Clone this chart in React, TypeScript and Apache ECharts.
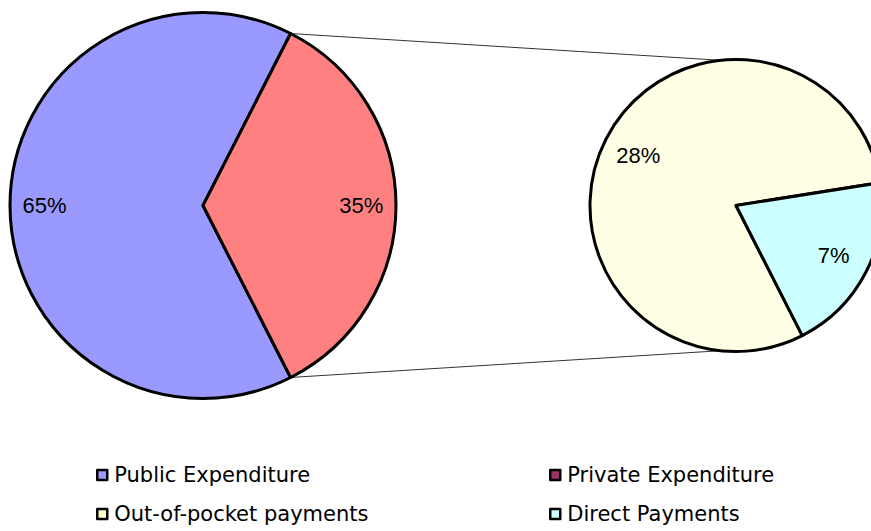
import React, { useEffect, useRef } from "react";
import * as echarts from "echarts";

const mainCategories = ["Public Expenditure", "Private Expenditure"];
const mainValues = [65, 35];
const mainColors = ["#9999FF", "#FF8080"];

const subCategories = ["Out-of-pocket payments", "Direct Payments"];
const subValues = [28, 7];
const subColors = ["#FFFFE5", "#CCFFFF"];

const legendColors: Record<string, string> = {
  "Public Expenditure": "#9999FF",
  "Private Expenditure": "#993366",
  "Out-of-pocket payments": "#FFFFCC",
  "Direct Payments": "#CCFFFF",
};
// legend grid: rows x columns
const legendGrid = [
  ["Public Expenditure", "Private Expenditure"],
  ["Out-of-pocket payments", "Direct Payments"],
];

const W = 871;
const H = 531;
const MAIN_C = [203, 205.5];
const MAIN_R = 193;
const SUB_C = [736, 205.5];
const SUB_R = 146;
const START = -63;
const LEG_X = [96, 549];
const LEG_Y = [463, 502];

export default function App() {
  const ref = useRef<HTMLDivElement>(null);
  useEffect(() => {
    if (!ref.current) return;
    const chart = echarts.init(ref.current, undefined, { renderer: "svg" });
    const mainData = mainCategories.map((n, i) => ({
      name: n,
      value: mainValues[i],
      itemStyle: { color: mainColors[i] },
    }));
    const subData = subCategories.map((n, i) => ({
      name: n,
      value: subValues[i],
      itemStyle: { color: subColors[i] },
    }));
    const labelStyle = {
      show: true,
      position: "inside",
      formatter: "{c}%",
      color: "#000",
      fontSize: 22,
      fontFamily: "Liberation Sans, Arial, sans-serif",
    };
    const basePie = {
      type: "pie",
      startAngle: START,
      clockwise: true,
      avoidLabelOverlap: false,
      silent: true,
      emphasis: { disabled: true },
      labelLine: { show: false },
    };
    const mainSplit = (mainValues[1] / (mainValues[0] + mainValues[1])) * 180;
    const a1 = (mainSplit * Math.PI) / 180;
    const a2 = (96 * Math.PI) / 180;
    const pTop = [MAIN_C[0] + MAIN_R * Math.cos(a1), MAIN_C[1] - MAIN_R * Math.sin(a1)];
    const pBot = [MAIN_C[0] + MAIN_R * Math.cos(a1), MAIN_C[1] + MAIN_R * Math.sin(a1)];
    const sTop = [SUB_C[0] + SUB_R * Math.cos(a2), SUB_C[1] - SUB_R * Math.sin(a2)];
    const sBot = [SUB_C[0] + SUB_R * Math.cos(a2), SUB_C[1] + SUB_R * Math.sin(a2)];

    const legends: any[] = [];
    legendGrid.forEach((row, ri) =>
      row.forEach((n, ci) => {
        legends.push({
          orient: "horizontal",
          left: LEG_X[ci],
          top: LEG_Y[ri],
          padding: 0,
          itemWidth: 10,
          itemHeight: 10,
          icon: "rect",
          selectedMode: false,
          textStyle: {
            fontSize: 21,
            lineHeight: 24,
            color: "#000",
            fontFamily: "DejaVu Sans, sans-serif",
            padding: [0, 0, 0, 2],
          },
          data: [
            {
              name: n,
              itemStyle: { color: legendColors[n], borderColor: "#000", borderWidth: 2.5 },
            },
          ],
        });
      })
    );

    chart.setOption({
      animation: false,
      backgroundColor: "#fff",
      legend: legends,
      graphic: [
        {
          type: "line",
          z: 0,
          shape: { x1: pTop[0], y1: pTop[1], x2: sTop[0], y2: sTop[1] },
          style: { stroke: "#333", lineWidth: 1 },
        },
        {
          type: "line",
          z: 0,
          shape: { x1: pBot[0], y1: pBot[1], x2: sBot[0], y2: sBot[1] },
          style: { stroke: "#333", lineWidth: 1 },
        },
      ],
      series: [
        {
          ...basePie,
          center: MAIN_C,
          radius: [0, MAIN_R],
          data: mainData,
          itemStyle: { borderColor: "#000", borderWidth: 3 },
          label: { show: false },
        },
        {
          ...basePie,
          center: MAIN_C,
          radius: [MAIN_R * 0.61, MAIN_R],
          data: mainData.map((d) => ({ ...d, itemStyle: { color: "rgba(0,0,0,0)" } })),
          itemStyle: { borderWidth: 0 },
          label: labelStyle,
        },
        {
          ...basePie,
          center: SUB_C,
          radius: [0, SUB_R],
          data: subData,
          itemStyle: { borderColor: "#000", borderWidth: 3 },
          label: { show: false },
        },
        {
          ...basePie,
          center: SUB_C,
          radius: [SUB_R * 0.46, SUB_R],
          data: subData.map((d) => ({ ...d, itemStyle: { color: "rgba(0,0,0,0)" } })),
          itemStyle: { borderWidth: 0 },
          label: labelStyle,
        },
      ],
    });
    return () => chart.dispose();
  }, []);
  return (
    <div
      ref={ref}
      style={{ position: "fixed", left: 0, top: 0, width: W, height: H, overflow: "hidden", background: "#fff" }}
    />
  );
}
